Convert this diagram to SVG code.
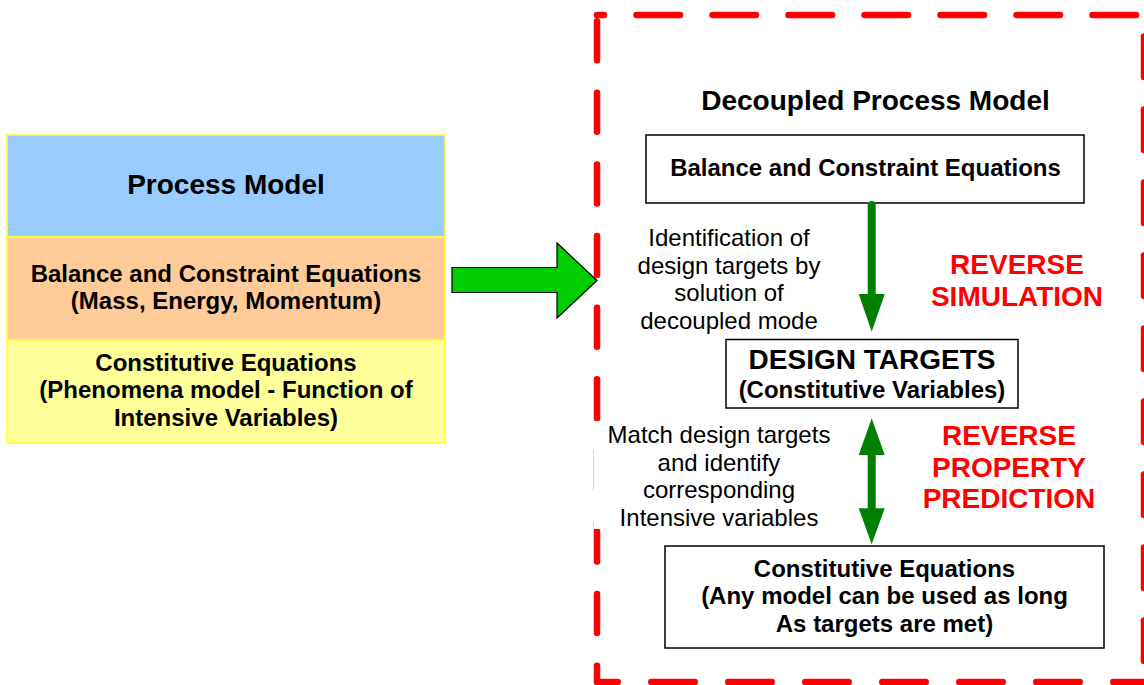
<svg xmlns="http://www.w3.org/2000/svg" width="1144" height="685" viewBox="0 0 1144 685">
  <style>
    text { font-family: "Liberation Sans", Arial, Helvetica, sans-serif; fill: #000; }
    .b { font-weight: bold; }
    .s24 { font-size: 24px; }
    .s28 { font-size: 28px; }
    .red { fill: #FF0000; }
    .c { text-anchor: middle; }
    .box { fill: #FFFFFF; stroke: #000000; stroke-width: 1.5; }
    .layer { stroke: #FFFF33; stroke-width: 1.5; }
    .frame { fill: none; stroke: #FF0000; stroke-width: 6.5; stroke-linecap: round; }
    .flow { fill: #008000; }
  </style>

  <!-- dashed boundary of the decoupled model -->
  <g id="decoupled-frame" class="frame">
    <line x1="597" y1="15" x2="1144" y2="15" stroke-dasharray="43.5 32.5" stroke-dashoffset="36.5"/>
    <line x1="597" y1="15" x2="597" y2="682" stroke-dasharray="39 32.6" stroke-dashoffset="65.35"/>
    <line x1="597" y1="682" x2="1144" y2="682" stroke-dasharray="43.5 33.5" stroke-dashoffset="22.75"/>
    <line x1="1144" y1="15" x2="1144" y2="682" stroke-dasharray="40.5 32.5" stroke-dashoffset="51.4"/>
  </g>

  <!-- layered process model -->
  <g id="process-model">
    <rect class="layer" x="7" y="135" width="438" height="102" fill="#99CCFF"/>
    <rect class="layer" x="7" y="237" width="438" height="103" fill="#FFCC99"/>
    <rect class="layer" x="7" y="340" width="438" height="103" fill="#FFFF99"/>
    <text class="b s28 c" x="226" y="194">Process Model</text>
    <text class="b s24 c" x="226" y="281.5">Balance and Constraint Equations</text>
    <text class="b s24 c" x="226" y="309">(Mass, Energy, Momentum)</text>
    <text class="b s24 c" x="226" y="370.5">Constitutive Equations</text>
    <text class="b s24 c" x="226" y="398">(Phenomena model - Function of</text>
    <text class="b s24 c" x="226" y="425.5">Intensive Variables)</text>
  </g>

  <g id="decoupled-title">
    <text class="b s28 c" x="875.5" y="109.5">Decoupled Process Model</text>
  </g>

  <g id="balance-node">
    <rect class="box" x="646" y="135" width="438" height="68"/>
    <text class="b s24 c" x="865.5" y="175.7">Balance and Constraint Equations</text>
  </g>

  <g id="design-targets-node">
    <rect class="box" x="726" y="339.5" width="292" height="68.5"/>
    <text class="b s28 c" x="872" y="368.5">DESIGN TARGETS</text>
    <text class="b s24 c" x="872" y="398">(Constitutive Variables)</text>
  </g>

  <g id="constitutive-node">
    <rect class="box" x="665" y="546" width="439" height="102"/>
    <text class="b s24 c" x="884.5" y="576.7">Constitutive Equations</text>
    <text class="b s24 c" x="884.5" y="604">(Any model can be used as long</text>
    <text class="b s24 c" x="884.5" y="631.5">As targets are met)</text>
  </g>

  <g id="simulation-label">
    <text class="s24 c" x="729" y="246">Identification of</text>
    <text class="s24 c" x="729" y="273.5">design targets by</text>
    <text class="s24 c" x="729" y="301">solution of</text>
    <text class="s24 c" x="729" y="328.5">decoupled mode</text>
  </g>

  <g id="simulation-tag">
    <text class="b s28 c red" x="1017" y="273.5">REVERSE</text>
    <text class="b s28 c red" x="1017" y="305.5">SIMULATION</text>
  </g>

  <g id="matching-label">
    <rect x="594" y="421" width="250" height="108" fill="#FFFFFF"/>
    <text class="s24 c" x="719" y="443">Match design targets</text>
    <text class="s24 c" x="719" y="470.5">and identify</text>
    <text class="s24 c" x="719" y="498">corresponding</text>
    <text class="s24 c" x="719" y="525.5">Intensive variables</text>
  </g>

  <g id="property-tag">
    <text class="b s28 c red" x="1009" y="445">REVERSE</text>
    <text class="b s28 c red" x="1009" y="476.5">PROPERTY</text>
    <text class="b s28 c red" x="1009" y="508">PREDICTION</text>
  </g>

  <!-- connectors -->
  <g id="connectors">
    <polygon points="452,267.5 557,267.5 557,243 597,280.5 557,318 557,292.5 452,292.5"
             fill="#00CC00" stroke="#000000" stroke-width="1.2" stroke-linejoin="miter"/>
    <line x1="871.7" y1="205" x2="871.7" y2="296" stroke="#008000" stroke-width="8" stroke-linecap="round"/>
    <polygon class="flow" points="858.7,294 884.7,294 871.7,331.7"/>
    <polygon class="flow" points="871.7,418.3 884.7,455 858.7,455"/>
    <rect class="flow" x="867.7" y="454" width="8" height="55"/>
    <polygon class="flow" points="858.7,508.3 884.7,508.3 871.7,544.3"/>
  </g>
</svg>
